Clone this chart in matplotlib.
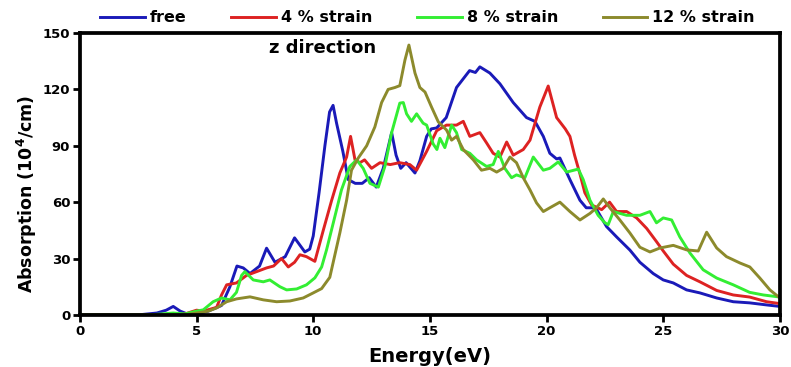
import matplotlib
matplotlib.use("Agg")
from matplotlib import pyplot as plt

plt.rcParams['font.family'] = ['DejaVu Sans']
plt.rcParams['font.weight'] = 'bold'
plt.rcParams['mathtext.default'] = 'bf'

# free
e_free = [0, 2.5, 3.3, 3.7, 4.0, 4.3, 4.6, 5.0, 5.5, 6.07, 6.43, 6.73, 7.0, 7.29, 7.7, 8.0,
          8.36, 8.8, 9.2, 9.64, 9.85, 10.0, 10.25, 10.5, 10.7, 10.85, 11.0, 11.27, 11.5, 11.8,
          12.1, 12.4, 12.7, 13.0, 13.36, 13.55, 13.75, 13.98, 14.36, 14.57, 14.86, 15.06, 15.29,
          15.7, 16.14, 16.7, 16.95, 17.14, 17.57, 18.0, 18.57, 19.14, 19.5, 19.86, 20.14, 20.43,
          20.57, 21.0, 21.43, 21.7, 22.1, 22.57, 23.0, 23.57, 24.0, 24.57, 25.0, 25.43, 26.0,
          26.57, 27.29, 28.0, 28.7, 29.43, 30]
a_free = [0, 0, 1.0, 2.5, 4.5, 2, 0.5, 0.5, 2, 5, 15, 26, 25, 22, 26, 35.5,
          28, 31, 41, 33.5, 35, 42, 65, 90, 108, 111.5, 102, 87, 72, 70,
          70, 73, 68, 78, 97, 85, 78, 81, 75.5, 82, 95, 99, 99.5,
          105, 121, 130, 129, 132, 128.7, 123, 113, 105, 103, 95, 86, 83,
          83.5, 72, 61, 57, 57, 47, 41.5, 34.5, 28, 22, 18.6, 17, 13.3,
          11.7, 9, 7, 6.4, 5.3, 4.5]

# 4 % strain
e_4 = [0, 4.0, 4.5, 5.0, 5.29, 5.86, 6.07, 6.29, 6.71, 7.14, 7.57, 8.0, 8.3, 8.64, 8.93, 9.2,
       9.43, 9.71, 10.07, 10.43, 10.79, 11.14, 11.43, 11.6, 11.79, 12.0, 12.2, 12.5, 12.86,
       13.3, 13.7, 14.14, 14.43, 14.86, 15.29, 15.71, 16.14, 16.43, 16.71, 17.14, 17.43, 17.71,
       18.0, 18.29, 18.57, 19.0, 19.29, 19.71, 20.07, 20.43, 20.8, 21.0, 21.2, 21.43, 21.64,
       21.93, 22.36, 22.7, 23.0, 23.43, 23.86, 24.29, 24.71, 25.0, 25.43, 26.0, 26.57, 27.29,
       28.0, 28.7, 29.43, 30]
a_4 = [0, 0, 0.5, 2.5, 2, 4, 10.6, 16, 17, 21, 23, 25, 26, 30, 25.5, 28,
       32, 31, 28.5, 45, 61, 75.5, 84, 95, 82.5, 81, 82.5, 78, 81,
       80, 81, 80, 77, 87, 98, 101, 101, 103, 95, 97, 91.5, 86,
       84, 92, 85, 88, 93, 110.6, 121.8, 105, 99, 95, 85, 75, 65,
       58.5, 56, 60, 55, 55, 51.6, 46, 39, 34, 27, 21, 17.6, 13,
       10.6, 9.5, 7, 6]

# 8 % strain
e_8 = [0, 3.0, 4.0, 4.5, 5.0, 5.29, 5.71, 6.07, 6.43, 6.71, 6.93, 7.07, 7.43, 7.86, 8.14,
       8.57, 8.86, 9.29, 9.71, 10.07, 10.36, 10.57, 10.86, 11.21, 11.57, 11.86, 12.14, 12.43,
       12.79, 13.07, 13.36, 13.71, 13.86, 14.0, 14.21, 14.43, 14.71, 14.86, 15.14, 15.3, 15.43,
       15.64, 15.93, 16.14, 16.36, 16.71, 17.0, 17.43, 17.71, 17.93, 18.21, 18.5, 18.71, 19.07,
       19.43, 19.86, 20.14, 20.5, 20.86, 21.36, 21.57, 21.86, 22.21, 22.5, 22.64, 22.86, 23.43,
       24.0, 24.43, 24.71, 25.0, 25.36, 25.71, 26.14, 26.71, 27.29, 28.0, 28.7, 29.29, 30]
a_8 = [0, 0, 1, 0.5, 2, 2.7, 7, 9, 8, 12, 21, 23, 18.6, 17.6, 18.6,
       15, 13.3, 13.8, 16, 19.7, 25.5, 34.6, 49, 66.5, 79, 82.5, 78, 70,
       68, 79, 97, 112.7, 113, 107, 103, 107, 102, 101, 91, 88, 94,
       89, 101, 97, 88, 86, 82.5, 79, 80, 87, 78, 73, 74.5, 73,
       84, 77, 78, 81.4, 76, 77.6, 72, 61, 53, 49, 48, 55, 53,
       53, 55, 49, 51.6, 50.5, 41.5, 33, 24, 19.6, 16, 12, 10.6, 9.5]

# 12 % strain
e_12 = [0, 4.5, 5.0, 5.5, 5.86, 6.29, 6.71, 7.29, 7.86, 8.43, 9.0, 9.57, 10.0, 10.36, 10.71,
        11.14, 11.43, 11.64, 11.93, 12.29, 12.64, 12.93, 13.21, 13.5, 13.71, 13.93, 14.1, 14.36,
        14.57, 14.79, 15.07, 15.36, 15.71, 15.93, 16.14, 16.43, 16.86, 17.21, 17.57, 17.86,
        18.14, 18.43, 18.71, 19.0, 19.29, 19.57, 19.86, 20.14, 20.57, 21.0, 21.43, 21.86, 22.14,
        22.43, 22.71, 23.14, 23.57, 24.0, 24.43, 24.86, 25.43, 26.0, 26.5, 26.86, 27.29, 27.71,
        28.29, 28.71, 29.14, 29.57, 30]
a_12 = [0, 0, 1, 2, 3.7, 7, 8.5, 9.6, 8, 7, 7.4, 9, 11.7, 14, 20,
        43.6, 61, 77, 83.5, 90, 100, 113, 120, 121, 122, 135.6, 143.6, 128.7,
        121, 118.6, 110.6, 102.7, 98.4, 93, 95, 88, 82.5, 77, 78, 76,
        78, 84, 81, 73, 66.5, 59.6, 55, 57, 60, 55, 50.5, 54, 57,
        61.7, 57, 50.5, 43.6, 36, 33.5, 35.6, 37, 34.6, 34, 44, 35.6, 31,
        27.6, 25.5, 19.6, 13.3, 9]

fig = plt.figure(figsize=(7.91, 3.67), dpi=100)
ax = fig.add_axes([0.101, 0.142, 0.885, 0.768])

ax.plot(e_free, a_free, color='#1a1ab8', lw=2.1, label='free')
ax.plot(e_4, a_4, color='#dd2222', lw=2.1, label='4 % strain')
ax.plot(e_8, a_8, color='#33ee33', lw=2.1, label='8 % strain')
ax.plot(e_12, a_12, color='#8c8a2c', lw=2.1, label='12 % strain')

ax.set_xlim(0, 30)
ax.set_ylim(0, 150)
ax.set_xticks([0, 5, 10, 15, 20, 25, 30])
ax.set_yticks([0, 30, 60, 90, 120, 150])
for s in ax.spines.values():
    s.set_linewidth(2.7)
ax.tick_params(direction='out', length=5, width=2, labelsize=9.5, pad=2)
for lab in ax.get_xticklabels() + ax.get_yticklabels():
    lab.set_fontweight('bold')

ax.set_xlabel('Energy(eV)', fontsize=14, fontweight='bold', labelpad=7)
ax.set_ylabel('Absorption (10$^4$/cm)', fontsize=12.5, fontweight='bold')
ax.yaxis.set_label_coords(-0.058, 0.43)
ax.text(8.1, 142, 'z direction', fontsize=13, fontweight='bold', va='center')

fig.legend(loc='center', bbox_to_anchor=(0.5405, 1 - 18 / 367), ncol=4, frameon=False,
           prop={'size': 11.5, 'weight': 'bold'}, handlelength=2.8, handletextpad=0.3,
           columnspacing=2.8, borderpad=0.0)

fig.savefig('out.png', dpi=100)
